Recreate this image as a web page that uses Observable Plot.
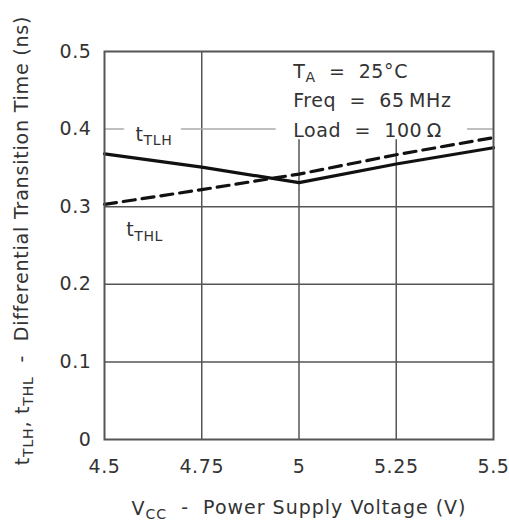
<!DOCTYPE html>
<html>
<head>
<meta charset="utf-8">
<script src="https://cdn.jsdelivr.net/npm/d3@7"></script>
<script src="https://cdn.jsdelivr.net/npm/@observablehq/plot@0.6"></script>
<style>
  html, body { margin: 0; padding: 0; background: #fff; }
  #chart svg { display: block; }
</style>
</head>
<body>
<div id="chart"></div>
<script>
// ---- data ----
const vcc   = [4.5, 4.75, 5, 5.25, 5.5];
const tTLH  = [0.368, 0.351, 0.331, 0.355, 0.376];
const tTHL  = [0.303, 0.322, 0.342, 0.367, 0.389];
const xTicks = [4.5, 4.75, 5, 5.25, 5.5];
const yTicks = [0, 0.1, 0.2, 0.3, 0.4, 0.5];
const seriesLabels = [
  {text: "t_{TLH}", x: 4.627, y: 0.393},
  {text: "t_{THL}", x: 4.603, y: 0.270}
];
const conditions = [
  {text: "T_{A}  =  25°C",       x: 4.985, y: 0.474},
  {text: "Freq  =  65\u2009MHz", x: 4.985, y: 0.436},
  {text: "Load  =  100\u2009Ω",  x: 4.985, y: 0.398}
];
const xLabel = "V_{CC}  -  Power Supply Voltage (V)";
const yLabel = "t_{TLH}, t_{THL}  -  Differential Transition Time (ns)";

const rows = vcc.map((v, i) => ({v, tlh: tTLH[i], thl: tTHL[i]}));
const FONT = 19;

const chart = Plot.plot({
  width: 509,
  height: 530,
  marginLeft: 104,
  marginRight: 16,
  marginTop: 51,
  marginBottom: 91,
  style: {fontFamily: "DejaVu Sans", fontSize: FONT + "px", background: "#fff", color: "#333"},
  x: {domain: [4.5, 5.5]},
  y: {domain: [0, 0.5]},
  marks: [
    Plot.gridX(xTicks.slice(1, -1), {stroke: "#555", strokeOpacity: 1, strokeWidth: 1.5}),
    Plot.gridY(yTicks.filter(d => d > 0 && d < 0.4), {stroke: "#555", strokeOpacity: 1, strokeWidth: 1.5}),
    Plot.gridY(yTicks.filter(d => d === 0.4), {stroke: "#aaa", strokeOpacity: 1, strokeWidth: 1.5}),
    Plot.text(conditions, {x: "x", y: "y", text: "text", textAnchor: "start", fill: "#333", fontSize: FONT, className: "cond"}),
    // halo behind series labels (breaks the grid line)
    Plot.text(seriesLabels, {x: "x", y: "y", text: "text", fill: "white", fontSize: FONT,
      stroke: "white", strokeWidth: 24, strokeLinejoin: "round"}),
    Plot.text(seriesLabels, {x: "x", y: "y", text: "text", fill: "#333", fontSize: FONT}),
    Plot.line(rows, {x: "v", y: "tlh", stroke: "#111", strokeWidth: 3.2}),
    Plot.line(rows, {x: "v", y: "thl", stroke: "#111", strokeWidth: 3.2, strokeDasharray: "12,7"}),
    Plot.frame({stroke: "#555", strokeWidth: 2}),
    Plot.axisX(xTicks, {tickSize: 0, tickPadding: 20, tickFormat: d => String(d), fontSize: FONT, label: null, fill: "#333"}),
    Plot.axisY(yTicks, {tickSize: 0, tickPadding: 13, tickFormat: d => String(d), fontSize: FONT, label: null, fill: "#333"}),
    Plot.text([xLabel], {frameAnchor: "bottom", textAnchor: "middle", dy: 75, fontSize: FONT, fill: "#333", className: "xlab"}),
    Plot.text([yLabel], {frameAnchor: "left", textAnchor: "middle", rotate: -90, dx: -82, dy: -5, fontSize: FONT, fill: "#333", className: "ylab"})
  ]
});
document.getElementById("chart").appendChild(chart);

// subscripts: rebuild "_{...}" into tspans
d3.select(chart).selectAll("text").each(function() {
  const t = this.textContent;
  if (!t.includes("_{")) return;
  const sel = d3.select(this);
  sel.text(null);
  const re = /_\{([^}]*)\}/g;
  let last = 0, m, shifted = false;
  while ((m = re.exec(t)) !== null) {
    if (m.index > last) {
      const s = sel.append("tspan").text(t.slice(last, m.index));
      if (shifted) { s.attr("dy", "-0.24em"); shifted = false; }
    }
    sel.append("tspan").attr("font-size", "74%").attr("dy", "0.32em").text(m[1]);
    shifted = true;
    last = re.lastIndex;
  }
  if (last < t.length) {
    const s = sel.append("tspan").text(t.slice(last));
    if (shifted) s.attr("dy", "-0.24em");
  }
});
d3.select(chart).selectAll("text").style("letter-spacing", "0.6px");
d3.select(chart).selectAll("g.xlab text").style("letter-spacing", "1px");
d3.select(chart).selectAll("g.ylab text").style("letter-spacing", "0.8px");

// white box behind the test-conditions block
const cond = chart.querySelector("g.cond");
if (cond) {
  const bb = cond.getBBox();
  const r = document.createElementNS("http://www.w3.org/2000/svg", "rect");
  r.setAttribute("x", bb.x - 16);
  r.setAttribute("y", bb.y - 10);
  r.setAttribute("width", bb.width + 32);
  r.setAttribute("height", bb.height + 9);
  r.setAttribute("fill", "white");
  cond.parentNode.insertBefore(r, cond);
}
</script>
</body>
</html>
